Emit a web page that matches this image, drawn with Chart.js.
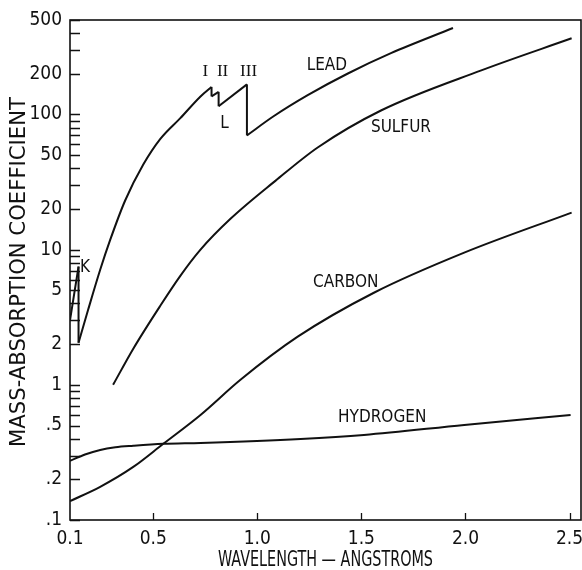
<!DOCTYPE html>
<html>
<head>
<meta charset="utf-8">
<script src="https://cdn.jsdelivr.net/npm/chart.js@4.4.1/dist/chart.umd.min.js"></script>
<style>
  html, body { margin: 0; padding: 0; background: #fff; }
</style>
</head>
<body>
<canvas id="chart" width="582" height="570"></canvas>
<script>
// axis ticks
const xTicks = [0.1, 0.5, 1.0, 1.5, 2.0, 2.5];
const xTickLabels = ['0.1', '0.5', '1.0', '1.5', '2.0', '2.5'];
const yTicks = [0.1, 0.2, 0.5, 1, 2, 5, 10, 20, 50, 100, 200, 500];
const yTickLabels = ['.1', '.2', '.5', '1', '2', '5', '10', '20', '50', '100', '200', '500'];

// curves (wavelength in angstroms, mass-absorption coefficient)
// repeated x = absorption edge (vertical drop)
const leadX = [0.1, 0.141, 0.141, 0.187, 0.245, 0.293, 0.365, 0.452, 0.534, 0.63, 0.727, 0.78, 0.78, 0.814, 0.814, 0.95, 0.95, 1.078, 1.242, 1.435, 1.642, 1.94];
const leadY = [3.0, 7.5, 2.05, 3.59, 7.1, 11.8, 23.1, 42.6, 66, 94, 136, 160, 136, 147, 115, 167, 70, 97, 139, 201, 284, 436];

const sulfurX = [0.307, 0.404, 0.534, 0.63, 0.727, 0.871, 1.088, 1.29, 1.594, 2.076, 2.51];
const sulfurY = [1.0, 1.85, 3.85, 6.4, 10, 16.9, 32.4, 57, 107, 212, 366];

const carbonX = [0.1, 0.245, 0.404, 0.548, 0.727, 0.919, 1.194, 1.56, 1.994, 2.51];
const carbonY = [0.138, 0.176, 0.247, 0.366, 0.599, 1.09, 2.27, 4.8, 9.5, 18.8];

const hydrogenX = [0.1, 0.172, 0.245, 0.318, 0.404, 0.548, 0.727, 1.208, 1.512, 1.994, 2.505];
const hydrogenY = [0.274, 0.305, 0.33, 0.345, 0.354, 0.366, 0.372, 0.398, 0.426, 0.505, 0.599];

// curve labels, placed in data coordinates
const labelText = ['LEAD', 'SULFUR', 'CARBON', 'HYDROGEN', 'L', 'K'];
const labelX = [1.334, 1.69, 1.425, 1.60, 0.842, 0.172];
const labelY = [229, 80, 5.66, 0.57, 86, 7.35];
const edgeText = ['I', 'II', 'III'];
const edgeX = [0.75, 0.833, 0.958];
const edgeY = [209, 209, 209];

const ink = '#111';
const narrow = "'Liberation Sans Narrow', 'DejaVu Sans Condensed', 'Liberation Sans', sans-serif";

function pts(xs, ys) {
    return xs.map((x, i) => ({ x: x, y: ys[i] }));
}

// split a curve at its edges so each smooth branch is interpolated alone
function branches(xs, ys) {
    const out = [];
    let cur = [];
    for (let i = 0; i < xs.length; i++) {
        if (cur.length && xs[i] === xs[i - 1]) {
            out.push(cur);
            out.push([{ x: xs[i - 1], y: ys[i - 1] }, { x: xs[i], y: ys[i] }]);
            cur = [];
        }
        cur.push({ x: xs[i], y: ys[i] });
    }
    out.push(cur);
    return out;
}

function line(data) {
    return {
        data: data,
        borderColor: ink,
        borderWidth: 2,
        pointRadius: 0,
        fill: false,
        cubicInterpolationMode: 'monotone'
    };
}

const datasets = [
    ...branches(leadX, leadY).map(line),
    line(pts(sulfurX, sulfurY)),
    line(pts(carbonX, carbonY)),
    line(pts(hydrogenX, hydrogenY))
];

function fitText(ctx, text, cx, cy, width, size, rot) {
    ctx.save();
    ctx.font = size + 'px ' + narrow;
    const w = ctx.measureText(text).width;
    ctx.translate(cx, cy);
    if (rot) ctx.rotate(rot);
    ctx.scale(width / w, 1);
    ctx.textAlign = 'center';
    ctx.textBaseline = 'middle';
    ctx.fillText(text, 0, 0);
    ctx.restore();
}

const decor = {
    id: 'decor',
    afterDraw(chart) {
        const { ctx, chartArea: a, scales: { x, y } } = chart;
        ctx.save();
        ctx.strokeStyle = ink;
        ctx.fillStyle = ink;
        ctx.lineWidth = 1.6;
        ctx.strokeRect(a.left, a.top, a.right - a.left, a.bottom - a.top);

        // inward ticks on the log axis, every integer step
        ctx.lineWidth = 1.3;
        ctx.beginPath();
        for (let d = 0.1; d < 500; d *= 10) {
            for (let k = 1; k <= 9; k++) {
                const v = d * k;
                if (v > 500) break;
                const py = Math.round(y.getPixelForValue(v)) + 0.5;
                ctx.moveTo(a.left, py);
                ctx.lineTo(a.left + 10, py);
            }
        }
        xTicks.slice(1).forEach(v => {
            const px = Math.round(x.getPixelForValue(v)) + 0.5;
            ctx.moveTo(px, a.bottom);
            ctx.lineTo(px, a.bottom - 7);
        });
        ctx.stroke();

        ctx.textAlign = 'center';
        ctx.textBaseline = 'middle';
        ctx.font = '17px ' + narrow;
        labelText.forEach((t, i) => {
            ctx.fillText(t, x.getPixelForValue(labelX[i]), y.getPixelForValue(labelY[i]));
        });
        ctx.font = '17px "Liberation Serif", serif';
        edgeText.forEach((t, i) => {
            ctx.fillText(t, x.getPixelForValue(edgeX[i]), y.getPixelForValue(edgeY[i]));
        });

        // axis titles
        fitText(ctx, 'WAVELENGTH \u2014 ANGSTROMS', (a.left + a.right) / 2, 560, 215, 22, 0);
        fitText(ctx, 'MASS-ABSORPTION COEFFICIENT', 20, (a.top + a.bottom) / 2 + 2, 350, 21, -Math.PI / 2);
        ctx.restore();
    }
};

function noPad(s) {
    s.paddingLeft = 0;
    s.paddingRight = 0;
    s.paddingTop = 0;
    s.paddingBottom = 0;
}

new Chart(document.getElementById('chart'), {
    type: 'line',
    data: { datasets: datasets },
    options: {
        responsive: false,
        animation: false,
        events: [],
        layout: { padding: { top: 20, right: 1, bottom: 0, left: 0 } },
        plugins: { legend: { display: false }, tooltip: { enabled: false } },
        scales: {
            x: {
                type: 'linear',
                min: 0.1,
                max: 2.555,
                afterFit: s => { s.height = 50; noPad(s); },
                afterBuildTicks: s => { s.ticks = xTicks.map(v => ({ value: v })); },
                grid: { display: false },
                border: { display: false },
                ticks: {
                    color: ink,
                    padding: 0,
                    maxRotation: 0,
                    font: { family: narrow, size: 19 },
                    callback: (v, i) => xTickLabels[i]
                }
            },
            y: {
                type: 'logarithmic',
                min: 0.1,
                max: 500,
                afterFit: s => { s.width = 70; noPad(s); },
                afterBuildTicks: s => { s.ticks = yTicks.map(v => ({ value: v })); },
                grid: { display: false },
                border: { display: false },
                ticks: {
                    color: ink,
                    padding: 0,
                    font: { family: narrow, size: 19 },
                    callback: (v, i) => yTickLabels[i]
                }
            }
        }
    },
    plugins: [decor]
});
</script>
</body>
</html>
